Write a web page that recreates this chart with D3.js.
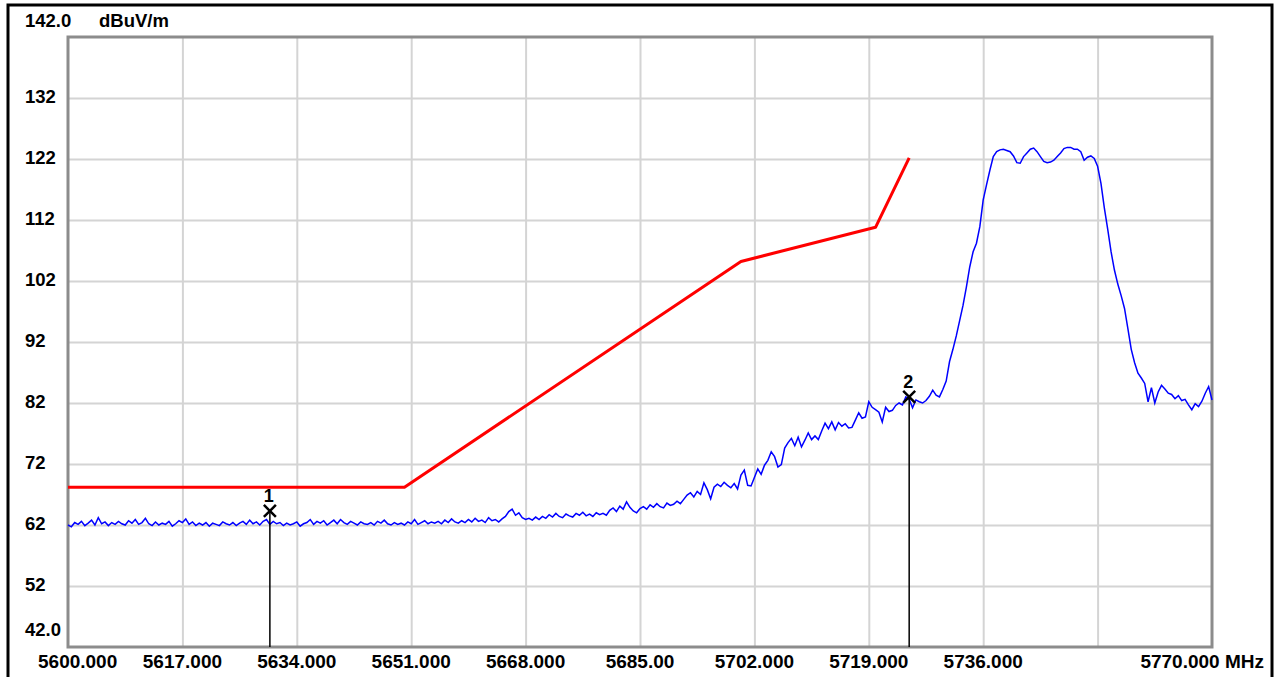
<!DOCTYPE html>
<html>
<head>
<meta charset="utf-8">
<script src="https://cdn.jsdelivr.net/npm/d3@7"></script>
<style>
  html, body { margin: 0; padding: 0; background: #ffffff; }
  svg { display: block; }
  text { font-family: "Liberation Sans", Arial, sans-serif; font-weight: bold; fill: #000; }
</style>
</head>
<body>
<svg id="chart" width="1275" height="677"></svg>
<script>
// ---------- DATA ----------
const unitLabel = "dBuV/m";
const xTicks = [5600, 5617, 5634, 5651, 5668, 5685, 5702, 5719, 5736, 5753, 5770];
const xTickLabels = ["5600.000", "5617.000", "5634.000", "5651.000", "5668.000", "5685.00",
                     "5702.000", "5719.000", "5736.000", "", "5770.000 MHz"];
const yTicks = [142, 132, 122, 112, 102, 92, 82, 72, 62, 52, 42];
const yTickLabels = ["142.0", "132", "122", "112", "102", "92", "82", "72", "62", "52", "42.0"];

// limit line (red)
const limitFreq  = [5600, 5650, 5700, 5720, 5725];
const limitLevel = [68.2, 68.2, 105.2, 110.8, 122.2];

// measured trace (blue), one value every 0.5 MHz from 5600 to 5770
const traceStart = 5600;
const traceStep = 0.5;
const traceLevel = [
  62.0, 61.7, 62.4, 62.1, 62.6, 61.9, 62.3, 62.8, 62.0, 63.2,
  62.2, 62.5, 61.9, 62.4, 62.1, 62.6, 62.2, 62.0, 62.7, 62.3,
  62.9, 62.1, 62.4, 63.1, 62.2, 61.9, 62.5, 62.0, 62.3, 62.1,
  62.6, 61.8, 62.2, 62.7, 62.4, 63.0, 62.1, 62.5, 61.9, 62.3,
  62.0, 62.4, 61.8, 62.3, 62.1, 61.9, 62.5, 62.2, 62.0, 62.4,
  61.9, 62.3, 62.6, 62.1, 62.8, 62.2, 62.5, 62.0, 62.6, 62.9,
  62.1, 62.6, 62.2, 62.4, 61.9, 62.3, 62.0, 62.2, 62.5, 61.8,
  62.2, 62.4, 62.9, 62.1, 62.6, 62.3, 62.7, 62.0, 62.4, 62.8,
  62.2, 62.9, 62.4, 62.1, 62.6, 62.3, 62.0, 62.5, 62.2, 62.1,
  62.4, 62.0, 62.6, 62.3, 62.8, 62.2, 62.0, 62.4, 62.1, 62.3,
  62.0, 62.5, 62.2, 62.9, 62.1, 62.4, 62.7, 62.2, 62.5, 62.3,
  62.6, 62.2, 62.8, 62.4, 63.0, 62.5, 62.3, 62.7, 62.4, 62.9,
  62.5, 63.1, 62.6, 62.8, 62.4, 63.2, 62.7, 62.9, 62.5, 63.0,
  63.4, 64.2, 64.6, 63.6, 64.0, 63.2, 62.9, 63.1, 62.8, 63.3,
  62.9, 63.4, 63.1, 63.7, 63.3, 63.9, 63.4, 63.2, 63.8, 63.5,
  63.3, 63.9, 63.6, 64.1, 63.5, 63.8, 63.4, 64.0, 63.7, 63.9,
  63.6, 64.4, 64.8, 64.2, 65.1, 64.6, 65.8, 64.9, 64.3, 64.0,
  64.7, 65.0, 64.6, 65.3, 64.9, 65.5, 65.0, 64.8, 65.6, 65.2,
  65.4, 65.9, 65.5, 66.2, 66.9, 67.3, 66.6, 67.5, 67.0, 68.9,
  67.8, 66.3, 68.2, 68.7, 68.3, 69.0, 68.5, 68.1, 68.8, 67.9,
  70.2, 71.0, 68.5, 68.4, 69.8, 71.2, 70.3, 71.8, 72.6, 74.0,
  73.2, 71.5, 71.9, 74.6, 75.5, 76.2, 75.0, 76.4, 74.8, 75.9,
  77.1, 76.0, 76.6, 76.0, 77.4, 78.7, 77.8, 78.9, 77.6, 78.8,
  78.2, 78.6, 77.9, 78.0, 79.2, 80.4, 79.5, 79.7, 82.2, 81.3,
  80.9, 80.5, 78.9, 81.3, 80.6, 80.8, 81.6, 82.0, 81.7, 83.0,
  82.6, 81.2, 82.5, 82.2, 82.0, 82.4, 83.1, 84.1, 83.3, 83.0,
  84.2, 85.6, 88.8, 90.8, 93.0, 95.5, 98.0, 101.0, 104.3, 106.8,
  108.2, 110.9, 115.3, 117.8, 120.2, 122.4, 123.2, 123.5, 123.6, 123.4,
  123.2, 122.5, 121.4, 121.3, 122.4, 123.0, 123.6, 123.8, 123.2, 122.4,
  121.6, 121.4, 121.5, 121.8, 122.4, 123.0, 123.7, 123.9, 123.9, 123.6,
  123.6, 123.2, 121.8, 122.3, 122.5, 122.1, 120.8, 118.0, 114.0, 110.5,
  106.8, 103.8, 101.5, 99.6, 97.5, 94.2, 90.8, 88.6, 86.9, 86.1,
  85.2, 82.2, 84.5, 82.0, 83.8, 84.9, 84.3, 83.6, 83.4, 82.7,
  83.2, 82.4, 82.6, 81.7, 80.9, 81.9, 81.4, 82.3, 83.6, 84.7,
  82.5
];

// markers
const markerNames = ["1", "2"];
const markerFreq  = [5630, 5725];
const markerLevel = [64.3, 83.0];

// ---------- LAYOUT ----------
const svg = d3.select("#chart");
const plot = { left: 68, right: 1212, top: 37, bottom: 647 };

const x = d3.scaleLinear().domain([5600, 5770]).range([plot.left, plot.right]);
const y = d3.scaleLinear().domain([42, 142]).range([plot.bottom, plot.top]);

// outer black frame
svg.append("rect")
  .attr("x", 8).attr("y", 5).attr("width", 1264).attr("height", 700)
  .attr("fill", "#fff").attr("stroke", "#000").attr("stroke-width", 3);

// gridlines through axes
const gx = svg.append("g")
  .attr("transform", `translate(0,${plot.bottom})`)
  .call(d3.axisBottom(x).tickValues(xTicks.slice(1, -1))
        .tickSize(-(plot.bottom - plot.top)).tickFormat(""));
gx.select(".domain").remove();
gx.selectAll("line").attr("stroke", "#d4d4d4").attr("stroke-width", 2);

const gy = svg.append("g")
  .attr("transform", `translate(${plot.left},0)`)
  .call(d3.axisLeft(y).tickValues(yTicks.slice(1, -1))
        .tickSize(-(plot.right - plot.left)).tickFormat(""));
gy.select(".domain").remove();
gy.selectAll("line").attr("stroke", "#d4d4d4").attr("stroke-width", 2);

// plot border
svg.append("rect")
  .attr("x", plot.left).attr("y", plot.top)
  .attr("width", plot.right - plot.left).attr("height", plot.bottom - plot.top)
  .attr("fill", "none").attr("stroke", "#8c8c8c").attr("stroke-width", 3);

// y labels
svg.append("g").selectAll("text")
  .data(yTicks)
  .join("text")
  .attr("x", 25)
  .attr("y", (d, i) => i === 0 ? y(d) - 10 : (i === yTicks.length - 1 ? y(d) - 11 : y(d) + 5))
  .attr("font-size", 18.5)
  .text((d, i) => yTickLabels[i]);

svg.append("text")
  .attr("x", 99).attr("y", y(142) - 10)
  .attr("font-size", 18.5)
  .text(unitLabel);

// x labels
svg.append("g").selectAll("text")
  .data(xTicks)
  .join("text")
  .attr("x", (d, i) => i === 0 ? 38 : (i === xTicks.length - 1 ? 1264 : x(d)))
  .attr("y", 668)
  .attr("text-anchor", (d, i) => i === 0 ? "start" : (i === xTicks.length - 1 ? "end" : "middle"))
  .attr("font-size", 19)
  .text((d, i) => xTickLabels[i]);

// limit line
const limitData = limitFreq.map((f, i) => [f, limitLevel[i]]);
svg.append("path")
  .datum(limitData)
  .attr("fill", "none").attr("stroke", "#ff0000").attr("stroke-width", 3)
  .attr("stroke-linejoin", "round")
  .attr("d", d3.line().x(d => x(d[0])).y(d => y(d[1])));

// trace
const traceData = traceLevel.map((v, i) => [traceStart + i * traceStep, v]);
svg.append("path")
  .datum(traceData)
  .attr("fill", "none").attr("stroke", "#0000ff").attr("stroke-width", 1.5)
  .attr("d", d3.line().x(d => x(d[0])).y(d => y(d[1])));

// markers
const mk = svg.append("g").selectAll("g")
  .data(markerFreq.map((f, i) => ({ f, v: markerLevel[i], name: markerNames[i] })))
  .join("g");
mk.append("line")
  .attr("x1", d => x(d.f)).attr("x2", d => x(d.f))
  .attr("y1", d => y(d.v)).attr("y2", plot.bottom)
  .attr("stroke", "#000").attr("stroke-width", 1.5);
mk.append("path")
  .attr("d", d => {
    const cx = x(d.f), cy = y(d.v), s = 6;
    return `M${cx - s},${cy - s}L${cx + s},${cy + s}M${cx + s},${cy - s}L${cx - s},${cy + s}`;
  })
  .attr("stroke", "#000").attr("stroke-width", 2.5).attr("fill", "none");
mk.append("text")
  .attr("x", d => x(d.f) - 1).attr("y", d => y(d.v) - 9)
  .attr("text-anchor", "middle")
  .attr("font-size", 18)
  .text(d => d.name);
</script>
</body>
</html>
